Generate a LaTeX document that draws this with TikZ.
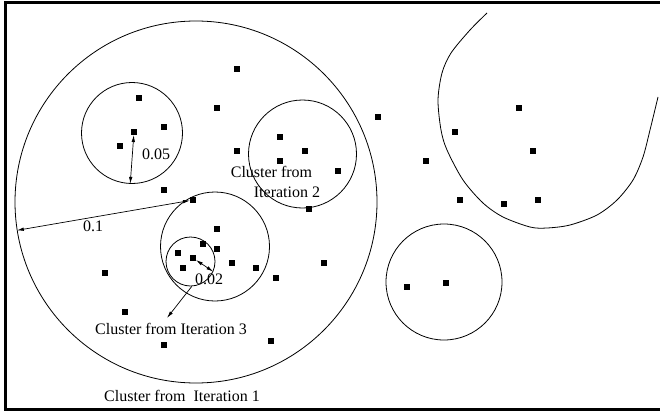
\documentclass[tikz,border=0pt]{standalone}
\usepackage{fontspec}
\setmainfont{Liberation Serif}
\usetikzlibrary{arrows.meta}

\begin{document}
\begin{tikzpicture}[x=1pt,y=-1pt,
  dot/.style={rectangle,fill=black,inner sep=0pt,minimum size=5.5pt},
  clus/.style={circle,draw,line width=0.8pt,inner sep=0pt},
  lab/.style={inner sep=0pt,font=\fontsize{16}{20}\selectfont},
  dim/.style={{Latex[length=7pt,width=3.5pt]}-{Latex[length=7pt,width=3.5pt]},line width=0.7pt}]
\useasboundingbox (0,0) rectangle (660,412);
\draw[line width=3pt] (663,3) -- (5,3) -- (5,409.5) -- (663,409.5); % frame

% the clusters
\node[clus,minimum size=362pt] (C1) at (196,202) {};
\node[clus,minimum size=101pt] (C05) at (132,133) {};
\node[clus,minimum size=108pt] (C2) at (302.5,154) {};
\node[clus,minimum size=109pt] (C3) at (215,246.5) {};
\node[clus,minimum size=49pt] (C02) at (190.5,261.5) {};
\node[clus,minimum size=116pt] (C4) at (444,282) {};
\draw[line width=0.8pt] plot[smooth] coordinates {(487,13) (470,30) (451,53) (442,73) (438,100) (441,130) (447,150) (463,180) (483,203) (503,217) (530,227) (547,228) (570,225) (597,215) (617,200) (633,180) (643,157) (650,130) (658,97)};

% the points
\foreach \x/\y [count=\i] in {237/69,217/108,139/98,164/127,120/146,237/151,280/137,305/151,280/161,164/190,338/171,309/209,378/117,519/108,455/132,533/151,426/161,460/200,504/204,538/200,217/229,203/244,217/249,178/253,183/268,232/263,256/268,276/278,324/263,105/273,125/312,164/345,271/341,407/287,446/283}
  \node[dot] (d\i) at (\x,\y) {};
\node[dot] (P05) at (134,132) {};
\node[dot] (P1) at (193,200) {};
\node[dot] (P02) at (193,258) {};

% radii
\draw[dim] (P05) -- (C05.268);
\node[lab] (L05) at (156,154) {0.05};
\draw[dim] (C1.189) -- (P1);
\node[lab] (L1) at (93,226) {0.1};
\draw[dim] (P02) -- (C02.-24);
\node[lab] (L02) at (209,279) {0.02};

% the labels
\node[lab] (Lab2a) at (271.5,172) {Cluster from};
\node[lab] (Lab2b) at (287,192) {Iteration 2};
\node[lab] (Lab3) at (171,329) {Cluster from Iteration 3};
\coordinate (Tip3) at (167,318);
\draw[-{Latex[length=7pt,width=3.5pt]},line width=0.7pt] (C02.-87) -- (Tip3);
\node[lab] (Lab1) at (182,396) {Cluster from~ Iteration 1};
\end{tikzpicture}
\end{document}
